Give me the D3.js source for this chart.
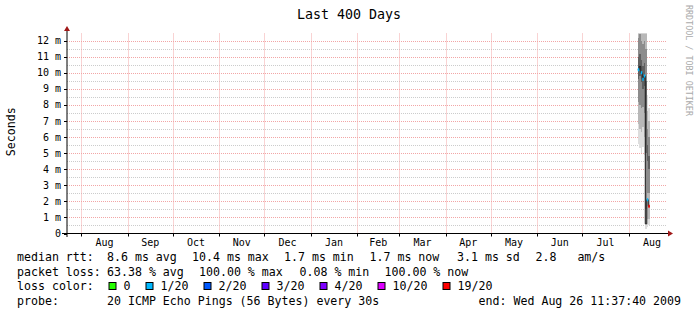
<!DOCTYPE html>
<html><head><meta charset="utf-8">
<script src="https://cdn.jsdelivr.net/npm/d3@7"></script>
<style>
body{margin:0;background:#fff}
svg{display:block}
text{font-family:"DejaVu Sans Mono",monospace;white-space:pre}
</style>
</head><body>
<svg id="chart" width="697" height="316"></svg>
<script>
// ---------- data ----------
const title = "Last 400 Days";
const yAxisLabel = "Seconds";
const watermark = "RRDTOOL / TOBI OETIKER";
const spanDays = 400;
const endTime = new Date(2009, 7, 26, 11, 37, 40);
const yMaxMs = 12.45;
const yTickValues = [0,1,2,3,4,5,6,7,8,9,10,11,12];
const yMinorValues = [0.5,1.5,2.5,3.5,4.5,5.5,6.5,7.5,8.5,9.5,10.5,11.5,12.5];

// daily smoke slots (ms)
const slotDates = ["2009-08-07","2009-08-08","2009-08-09","2009-08-10","2009-08-11","2009-08-12","2009-08-13","2009-08-14"];
const pingMin = [5.6, 5.3, 5.0, 5.4, 4.9, 0.3, 0.4, 0.5];
const ping10  = [6.8, 6.5, 6.3, 6.6, 6.0, 0.6, 0.9, 0.9];
const ping25  = [8.2, 8.0, 7.8, 7.9, 7.5, 1.5, 2.5, 2.5];
const ping40  = [9.6, 9.8, 9.4, 9.0, 9.2, 5.0, 4.5, 4.0];
const ping60  = [11.0,11.2,10.8,10.4,10.6,9.5, 5.5, 4.8];
const ping75  = [12.2,12.4,12.0,11.8,12.0,11.5,6.5, 6.0];
const ping90  = [13.5,13.6,13.4,13.2,13.4,13.0,7.6, 7.0];
const pingMax = [15, 15, 15, 15, 15, 15, 8.6, 7.8];
const median  = [10.2,10.4,10.0,9.6, 9.8, 0.6, 2.1, 1.7];
const lossClass = [1, null, 1, 1, 1, null, 1, 6];

const lossLabels = ["0","1/20","2/20","3/20","4/20","10/20","19/20"];
const lossColors = ["#26ff00","#00b8ff","#0059ff","#5e00ff","#7e00ff","#dd00ff","#ff0000"];

const rttLabel = "median rtt:";
const rttItems = ["8.6 ms avg","10.4 ms max","1.7 ms min","1.7 ms now","3.1 ms sd","2.8   am/s"];
const lossRowLabel = "packet loss:";
const lossItems = ["63.38 % avg","100.00 % max","0.08 % min","100.00 % now"];
const colorRowLabel = "loss color:";
const probeLabel = "probe:";
const probeText = "20 ICMP Echo Pings (56 Bytes) every 30s";
const endText = "end: Wed Aug 26 11:37:40 2009";

// ---------- layout ----------
const plot = {left: 67, right: 667, top: 33.5, bottom: 233.5};
const svg = d3.select("#chart");
const startTime = new Date(endTime.getTime() - spanDays * 864e5);
const x = d3.scaleTime().domain([startTime, endTime]).range([plot.left, plot.right]);
const y = d3.scaleLinear().domain([0, yMaxMs]).range([plot.bottom, plot.top]);
const parse = d3.timeParse("%Y-%m-%d");

// grid
const g = svg.append("g");
g.selectAll("line.minor").data(yMinorValues.filter(v => v <= yMaxMs)).join("line")
  .attr("x1", plot.left).attr("x2", plot.right)
  .attr("y1", d => Math.round(y(d)) + 0.5).attr("y2", d => Math.round(y(d)) + 0.5)
  .attr("stroke", "#cccccc").attr("stroke-dasharray", "1,1");
g.selectAll("line.major").data(yTickValues.slice(1)).join("line")
  .attr("x1", plot.left).attr("x2", plot.right)
  .attr("y1", d => Math.round(y(d)) + 0.5).attr("y2", d => Math.round(y(d)) + 0.5)
  .attr("stroke", "#f2a6a6").attr("stroke-dasharray", "1,1");
const months = d3.timeMonth.range(d3.timeMonth.ceil(startTime), endTime);
g.selectAll("line.vmaj").data(months).join("line")
  .attr("x1", d => Math.round(x(d)) + 0.5).attr("x2", d => Math.round(x(d)) + 0.5)
  .attr("y1", plot.top).attr("y2", plot.bottom)
  .attr("stroke", "#f2a6a6").attr("stroke-dasharray", "1,1");

// smoke
svg.append("clipPath").attr("id", "clip").append("rect")
  .attr("x", plot.left).attr("y", plot.top).attr("width", plot.right - plot.left).attr("height", plot.bottom - plot.top);
const smoke = svg.append("g").attr("clip-path", "url(#clip)");
const slots = slotDates.map((s, i) => ({
  t0: parse(s), t1: d3.timeDay.offset(parse(s), 1),
  q: [pingMin[i], ping10[i], ping25[i], ping40[i], ping60[i], ping75[i], ping90[i], pingMax[i]],
  med: median[i], loss: lossClass[i]
}));
const shades = ["#dddddd", "#b8b8b8", "#8c8c8c", "#606060"];
slots.forEach(s => {
  for (let k = 0; k < 4; k++) {
    const lo = s.q[k], hi = s.q[7 - k];
    smoke.append("rect")
      .attr("x", x(s.t0)).attr("width", x(s.t1) - x(s.t0))
      .attr("y", y(hi)).attr("height", y(lo) - y(hi))
      .attr("fill", shades[k]).attr("shape-rendering", "crispEdges");
  }
});
// median step line
const medPts = [];
slots.forEach(s => { medPts.push([x(s.t0), y(s.med)]); medPts.push([x(s.t1), y(s.med)]); });
smoke.append("path").attr("d", d3.line()(medPts)).attr("fill", "none").attr("stroke", "#202020").attr("stroke-width", 1);
smoke.selectAll("line.loss").data(slots.filter(s => s.loss !== null)).join("line")
  .attr("x1", s => x(s.t0)).attr("x2", s => x(s.t1))
  .attr("y1", s => y(s.med)).attr("y2", s => y(s.med))
  .attr("stroke", s => lossColors[s.loss]).attr("stroke-width", 3);

// axes
svg.append("line").attr("x1", 62).attr("x2", 669).attr("y1", plot.bottom).attr("y2", plot.bottom).attr("stroke", "#000");
svg.append("line").attr("x1", plot.left).attr("x2", plot.left).attr("y1", 29).attr("y2", 237).attr("stroke", "#000");
svg.selectAll("line.yt").data(yTickValues).join("line")
  .attr("x1", plot.left - 3).attr("x2", plot.left)
  .attr("y1", d => Math.round(y(d)) + 0.5).attr("y2", d => Math.round(y(d)) + 0.5).attr("stroke", "#000");
svg.selectAll("line.xt").data(months).join("line")
  .attr("x1", d => Math.round(x(d)) + 0.5).attr("x2", d => Math.round(x(d)) + 0.5)
  .attr("y1", plot.bottom).attr("y2", plot.bottom + 3).attr("stroke", "#000");
svg.append("path").attr("d", `M${plot.left - 3},31 L${plot.left + 3},31 L${plot.left},26 Z`).attr("fill", "#a01818");
svg.append("path").attr("d", `M668,${plot.bottom - 3} L668,${plot.bottom + 3} L673,${plot.bottom} Z`).attr("fill", "#a01818");

svg.selectAll("text.yl").data(yTickValues).join("text")
  .attr("x", 61).attr("y", d => y(d)).attr("dy", "0.35em").attr("text-anchor", "end")
  .attr("font-size", 10).text(d => d === 0 ? "0" : d + " m");
const fmtMonth = d3.timeFormat("%b");
svg.selectAll("text.xl").data(months).join("text")
  .attr("x", d => x(new Date((d.getTime() + d3.timeMonth.offset(d, 1).getTime()) / 2)))
  .attr("y", 246).attr("text-anchor", "middle").attr("font-size", 10).text(d => fmtMonth(d));

// titles
svg.append("text").attr("x", 349).attr("y", 18.5).attr("text-anchor", "middle").attr("font-size", 13.3).text(title);
svg.append("text").attr("transform", "translate(10.5,131.7) rotate(-90)").attr("text-anchor", "middle")
  .attr("dy", "0.35em").attr("font-size", 11.6).text(yAxisLabel);
svg.append("text").attr("transform", "translate(686,5) rotate(90)").attr("font-size", 8.4)
  .attr("fill", "#aaaaaa").text(watermark);

// legend
const L = svg.append("g").attr("font-size", 11.6);
const rowY = [261, 275.5, 290, 304.5];
L.append("text").attr("x", 17).attr("y", rowY[0]).text(rttLabel);
const rttX = [107, 192, 284, 369.5, 457, 535.5];
rttItems.forEach((t, i) => L.append("text").attr("x", rttX[i]).attr("y", rowY[0]).text(t));
L.append("text").attr("x", 17).attr("y", rowY[1]).text(lossRowLabel);
const lossX = [107, 199, 299.5, 384.5];
lossItems.forEach((t, i) => L.append("text").attr("x", lossX[i]).attr("y", rowY[1]).text(t));
L.append("text").attr("x", 17).attr("y", rowY[2]).text(colorRowLabel);
let cx = 108.5;
lossLabels.forEach((lab, i) => {
  L.append("rect").attr("x", cx + 0.5).attr("y", rowY[2] - 7.5).attr("width", 7).attr("height", 7)
    .attr("fill", lossColors[i]).attr("stroke", "#000");
  L.append("text").attr("x", cx + 15).attr("y", rowY[2]).text(lab);
  cx += (lab.length + 4) * 7 + 2;
});
L.append("text").attr("x", 17).attr("y", rowY[3]).text(probeLabel);
L.append("text").attr("x", 107).attr("y", rowY[3]).text(probeText);
L.append("text").attr("x", 681).attr("y", rowY[3]).attr("text-anchor", "end").text(endText);
</script>
</body></html>
